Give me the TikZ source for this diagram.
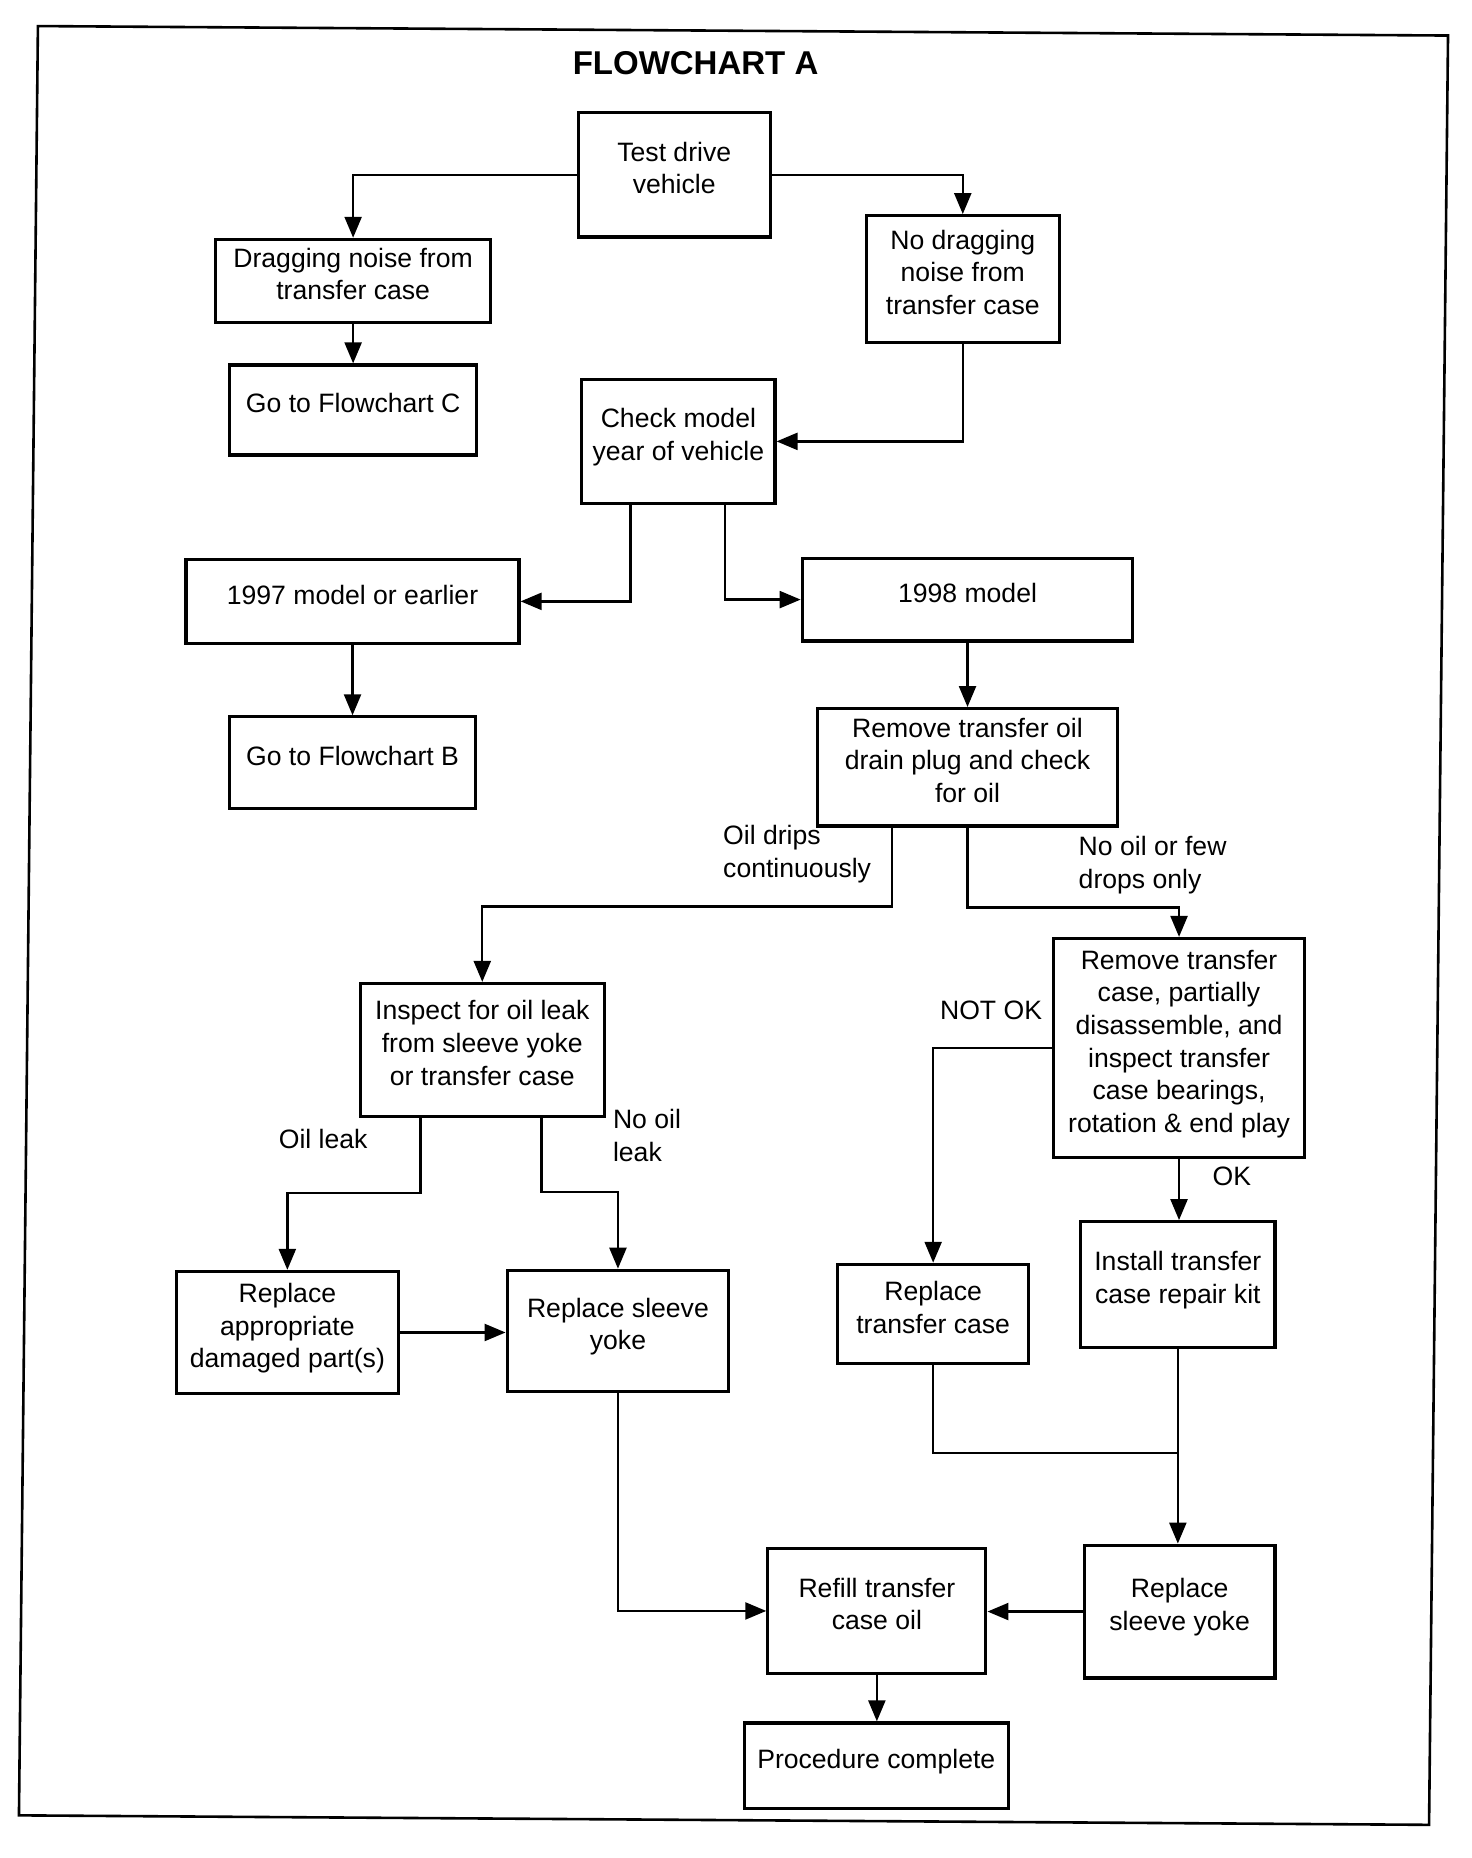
\documentclass[tikz,border=0pt]{standalone}
\usepackage{fontspec}
\setmainfont{Liberation Sans}
\usetikzlibrary{arrows.meta}
\begin{document}
\begin{tikzpicture}[x=0.5926pt,y=-0.5926pt,
  box/.style={draw,line width=1.6pt,align=center,inner sep=0pt,text depth=7pt,font=\fontsize{13.3}{16.3}\selectfont},
  wh/.style 2 args={minimum width=#1*0.5926pt,minimum height=#2*0.5926pt},
  conn/.style={line width=1.2pt,-{Triangle[length=10.5pt,width=8.5pt]}},
  plain/.style={line width=1.2pt},
  lbl/.style={align=left,inner sep=0pt,font=\fontsize{13.3}{16.3}\selectfont}]
\useasboundingbox (0,0) rectangle (1242,1568);
\draw[line width=1.3pt] (32,22) -- (1222,30) -- (1206,1540) -- (16,1532) -- cycle;
\node[font=\bfseries\fontsize{16.5}{20}\selectfont] (title) at (587,53) {FLOWCHART A};

\node[box,wh={162}{105}] (td) at (569,147.5) {Test drive\\vehicle};
\node[box,wh={232}{70}] (drag) at (298,237) {Dragging noise from\\transfer case};
\node[box,wh={163}{107}] (nodrag) at (812.5,235.5) {No dragging\\noise from\\transfer case};
\node[box,wh={208}{76}] (goc) at (298,346) {Go to Flowchart C};
\node[box,wh={163}{105}] (chk) at (572.5,372.5) {Check model\\year of vehicle};
\node[box,wh={281}{71}] (m97) at (297.5,507.5) {1997 model or earlier};
\node[box,wh={279}{70}] (m98) at (816.5,506) {1998 model};
\node[box,wh={207}{77}] (gob) at (297.5,643.5) {Go to Flowchart B};
\node[box,wh={253}{99}] (drain) at (816.5,647.5) {Remove transfer oil\\drain plug and check\\for oil};
\node[box,wh={206}{112}] (insp) at (407,886) {Inspect for oil leak\\from sleeve yoke\\or transfer case};
\node[box,wh={212}{185}] (rem) at (995,884.5) {Remove transfer\\case, partially\\disassemble, and\\inspect transfer\\case bearings,\\rotation \& end play};
\node[box,wh={187}{103}] (repapp) at (242.5,1124.5) {Replace\\appropriate\\damaged part(s)};
\node[box,wh={187}{102}] (rsy1) at (521.5,1123) {Replace sleeve\\yoke};
\node[box,wh={161}{84}] (rtc) at (787.5,1109) {Replace\\transfer case};
\node[box,wh={164}{106}] (kit) at (994,1084) {Install transfer\\case repair kit};
\node[box,wh={184}{105}] (refill) at (740,1359.5) {Refill transfer\\case oil};
\node[box,wh={161}{112}] (rsy2) at (995.5,1360) {Replace\\sleeve yoke};
\node[box,wh={223}{72}] (proc) at (739.5,1490) {Procedure complete};

\node[lbl,anchor=west] (l1) at (610,721) {Oil drips\\continuously};
\node[lbl,anchor=west] (l2) at (910,730) {No oil or few\\drops only};
\node[lbl,anchor=west] (l3) at (235,961) {Oil leak};
\node[lbl,anchor=west] (l4) at (517,958.5) {No oil\\leak};
\node[lbl,anchor=west] (l5) at (793,853) {NOT OK};
\node[lbl,anchor=west] (l6) at (1023,993) {OK};

\draw[conn] (td.west) -| (drag.north);
\draw[conn] (td.east) -| (nodrag.north);
\draw[conn] (drag.south) -- (goc.north);
\draw[conn] (nodrag.south) |- (chk.east);
\draw[conn] (chk.south -| 532,0) |- (m97.east);
\draw[conn] (chk.south -| 612,0) |- (m98.west);
\draw[conn] (m97.south) -- (gob.north);
\draw[conn] (m98.south) -- (drain.north);
\draw[conn] (drain.south -| 753,0) -- (753,765) -| (insp.north);
\draw[conn] (drain.south) -- (816.5,766) -| (rem.north);
\draw[conn] (insp.south -| 355,0) -- (355,1007) -| (repapp.north);
\draw[conn] (insp.south -| 457,0) -- (457,1006) -| (rsy1.north);
\draw[conn] (repapp.east) -- (repapp.east -| rsy1.west);
\draw[conn] (rem.west) -| (rtc.north);
\draw[conn] (rem.south) -- (rem.south |- kit.north);
\draw[plain] (rtc.south) |- (kit.south |- 0,1226);
\draw[conn] (kit.south) -- (kit.south |- rsy2.north);
\draw[conn] (rsy1.south) |- (refill.west);
\draw[conn] (rsy2.west) -- (rsy2.west -| refill.east);
\draw[conn] (refill.south) -- (refill.south |- proc.north);
\end{tikzpicture}
\end{document}
